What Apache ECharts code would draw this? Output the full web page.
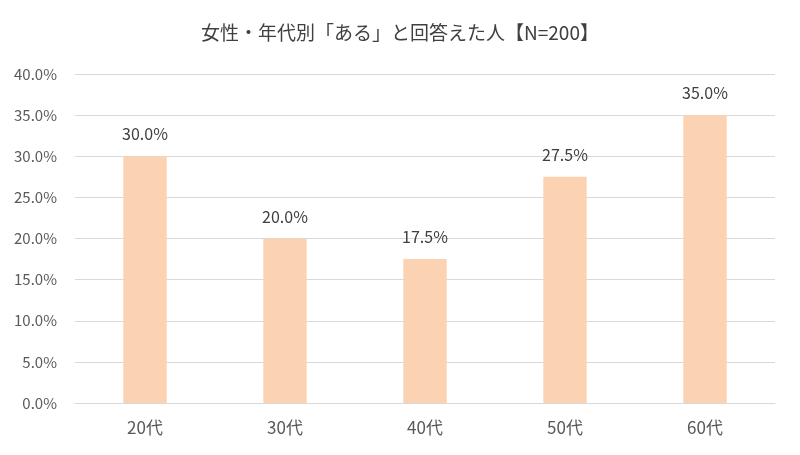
<!DOCTYPE html>
<html><head><meta charset="utf-8">
<script src="https://cdn.jsdelivr.net/npm/echarts@6/dist/echarts.min.js"></script>
<style>html,body{margin:0;padding:0;background:#fff}#c{width:800px;height:455px}</style>
</head><body><div id="c"></div>
<script>
const titleText = '女性・年代別「ある」と回答えた人【N=200】';
const categories = ['20代', '30代', '40代', '50代', '60代'];
const values = [30.0, 20.0, 17.5, 27.5, 35.0];
const yMin = 0, yMax = 40, yStep = 5;

const chart = echarts.init(document.getElementById('c'), null, {renderer: 'canvas'});
const font = '"Noto Sans CJK JP", "Noto Sans", sans-serif';
chart.setOption({
  animation: false,
  backgroundColor: '#ffffff',
  title: {
    text: titleText, left: 'center', top: 18,
    textStyle: {fontFamily: font, fontSize: 19, fontWeight: 'normal', color: '#404040'}
  },
  grid: {left: 75, right: 25, top: 74, bottom: 52},
  xAxis: {
    type: 'category', data: categories,
    axisLine: {lineStyle: {color: '#d9d9d9', width: 1}},
    axisTick: {show: false},
    axisLabel: {fontFamily: font, fontSize: 17, color: '#595959', margin: 16}
  },
  yAxis: {
    type: 'value', min: yMin, max: yMax, interval: yStep,
    axisLine: {show: false}, axisTick: {show: false},
    splitLine: {lineStyle: {color: '#d9d9d9', width: 1}},
    axisLabel: {fontFamily: font, fontSize: 15, color: '#595959', margin: 18,
      formatter: v => v.toFixed(1) + '%'}
  },
  series: [{
    type: 'bar', data: values, barWidth: '31%',
    itemStyle: {color: '#fbd3b3'},
    label: {show: true, position: 'top', distance: 14, fontFamily: font, fontSize: 16, color: '#404040',
      formatter: p => p.value.toFixed(1) + '%'}
  }]
});
</script></body></html>
